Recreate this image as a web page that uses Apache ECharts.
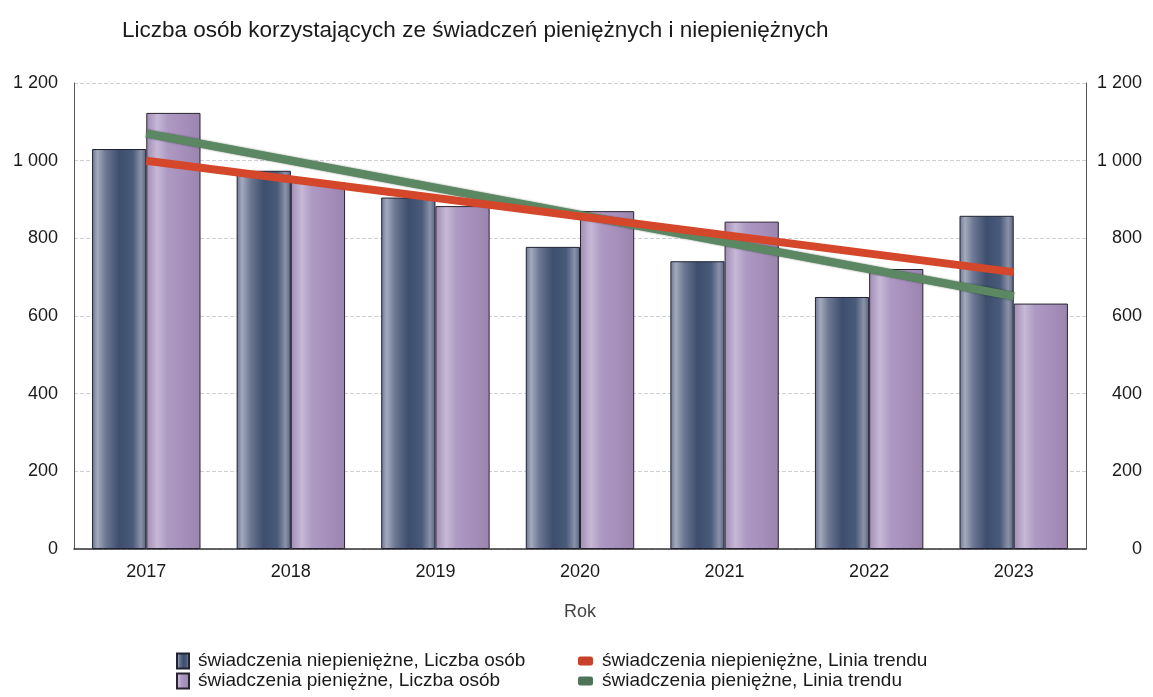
<!DOCTYPE html>
<html>
<head>
<meta charset="utf-8">
<script src="https://cdn.jsdelivr.net/npm/echarts@6/dist/echarts.min.js"></script>
<style>
  html, body { margin: 0; padding: 0; background: #fff; }
  #chart { width: 1153px; height: 697px; }
</style>
</head>
<body>
<div id="chart"></div>
<script>
// lata
var years = ['2017', '2018', '2019', '2020', '2021', '2022', '2023'];
// liczba osób
var niepieniezne = [1030, 974, 905, 778, 741, 649, 858];
var pieniezne = [1123, 945, 883, 870, 843, 721, 632];
// linie trendu - odczytane końce
var trendNiepieniezne = [1000, null, null, null, null, null, 713];
var trendPieniezne = [1070, null, null, null, null, null, 651];
var yTicks = [0, 200, 400, 600, 800, 1000, 1200];

var font = '"Liberation Sans", Arial, sans-serif';

function fmt(v) {
    return String(v).replace(/\B(?=(\d{3})+(?!\d))/g, ' ');
}

var chart = echarts.init(document.getElementById('chart'));

var darkFill = new echarts.graphic.LinearGradient(0, 0, 1, 0, [
    { offset: 0, color: '#6c7590' },
    { offset: 0.1, color: '#a3aabd' },
    { offset: 0.25, color: '#6d7893' },
    { offset: 0.5, color: '#3d4e6e' },
    { offset: 0.75, color: '#4a5a79' },
    { offset: 0.9, color: '#8a92a8' },
    { offset: 1, color: '#56627f' }
]);
var lightFill = new echarts.graphic.LinearGradient(0, 0, 1, 0, [
    { offset: 0, color: '#a08cb4' },
    { offset: 0.2, color: '#c6b8d6' },
    { offset: 0.4, color: '#ad99c2' },
    { offset: 0.7, color: '#a68fbb' },
    { offset: 1, color: '#9a85ae' }
]);

var legendText = { fontSize: 19, lineHeight: 20, color: '#1a1a1a', fontFamily: font, padding: [0, 0, 0, 4] };

chart.setOption({
    animation: false,
    textStyle: { fontFamily: font },
    title: {
        text: 'Liczba osób korzystających ze świadczeń pieniężnych i niepieniężnych',
        left: 117,
        top: 14,
        textStyle: { fontSize: 22.5, fontWeight: 'normal', color: '#1a1a1a', fontFamily: font }
    },
    legend: [
        {
            left: 176,
            top: 651,
            padding: 0,
            height: 44,
            orient: 'vertical',
            itemGap: 0,
            itemWidth: 12,
            itemHeight: 15,
            textStyle: legendText,
            data: [
                { name: 'świadczenia niepieniężne, Liczba osób', icon: 'rect' },
                { name: 'świadczenia pieniężne, Liczba osób', icon: 'rect' }
            ]
        },
        {
            left: 578,
            top: 651,
            padding: 0,
            height: 44,
            orient: 'vertical',
            itemGap: 0,
            itemWidth: 15,
            itemHeight: 9,
            textStyle: legendText,
            data: [
                { name: 'świadczenia niepieniężne, Linia trendu', icon: 'roundRect', itemStyle: { color: '#c8402a' } },
                { name: 'świadczenia pieniężne, Linia trendu', icon: 'roundRect', itemStyle: { color: '#4f7358' } }
            ]
        }
    ],
    grid: {
        left: 74,
        right: 67,
        top: 83,
        bottom: 148
    },
    xAxis: {
        type: 'category',
        data: years,
        name: 'Rok',
        nameLocation: 'middle',
        nameGap: 54,
        nameTextStyle: { fontSize: 18, color: '#444', fontFamily: font },
        axisTick: { show: false },
        axisLine: { lineStyle: { color: '#333', width: 1.5 } },
        axisLabel: { fontSize: 18, color: '#1a1a1a', margin: 14, fontFamily: font }
    },
    yAxis: [
        {
            type: 'value',
            min: 0,
            max: 1200,
            interval: 200,
            axisLine: { show: true, lineStyle: { color: '#555', width: 1 } },
            axisTick: { show: false },
            axisLabel: {
                fontSize: 18, color: '#1a1a1a', margin: 16, fontFamily: font,
                formatter: function (v) { return yTicks.indexOf(v) >= 0 ? fmt(v) : ''; }
            },
            splitLine: { show: true, lineStyle: { type: 'dashed', color: '#cfcfd6', width: 1 } }
        },
        {
            type: 'value',
            min: 0,
            max: 1200,
            interval: 200,
            position: 'right',
            axisLine: { show: true, lineStyle: { color: '#555', width: 1 } },
            axisTick: { show: false },
            axisLabel: {
                fontSize: 18, color: '#1a1a1a', margin: 56, align: 'right', fontFamily: font,
                formatter: function (v) { return fmt(v); }
            },
            splitLine: { show: false }
        }
    ],
    series: [
        {
            name: 'świadczenia niepieniężne, Liczba osób',
            type: 'bar',
            data: niepieniezne,
            barGap: '0%',
            barCategoryGap: '25%',
            itemStyle: { color: darkFill, borderColor: '#1e2233', borderWidth: 1 }
        },
        {
            name: 'świadczenia pieniężne, Liczba osób',
            type: 'bar',
            data: pieniezne,
            barGap: '0%',
            barCategoryGap: '25%',
            itemStyle: { color: lightFill, borderColor: '#2a2430', borderWidth: 1 }
        },
        {
            name: 'świadczenia pieniężne, Linia trendu',
            type: 'line',
            data: trendPieniezne,
            connectNulls: true,
            symbol: 'none',
            itemStyle: { color: '#4f7358' },
            lineStyle: { width: 8, color: '#5b8763', shadowColor: 'rgba(20,40,20,0.6)', shadowBlur: 2 },
            z: 3
        },
        {
            name: 'świadczenia niepieniężne, Linia trendu',
            type: 'line',
            data: trendNiepieniezne,
            connectNulls: true,
            symbol: 'none',
            itemStyle: { color: '#c8402a' },
            lineStyle: { width: 8, color: '#d4472b' },
            z: 4
        }
    ]
});
</script>
</body>
</html>
